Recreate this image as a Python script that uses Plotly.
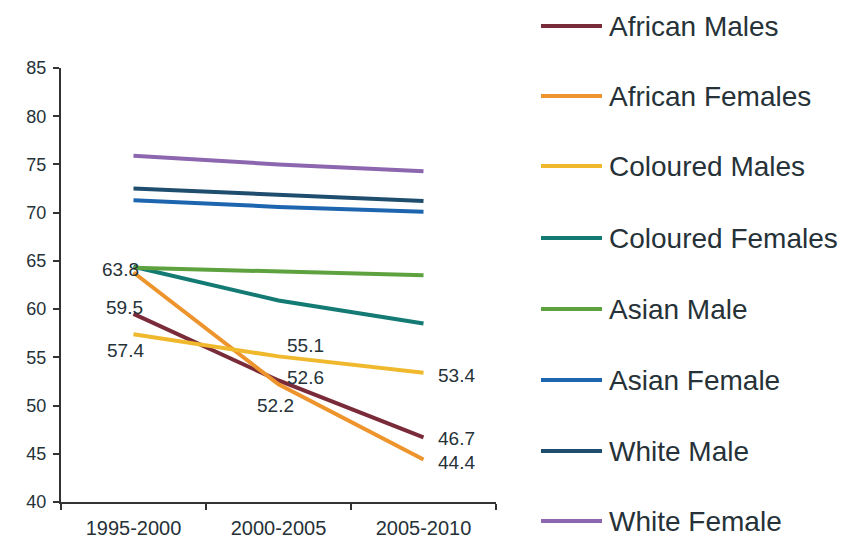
import plotly.graph_objects as go

periods = ["1995-2000", "2000-2005", "2005-2010"]
series_names = ["African Males", "African Females", "Coloured Males", "Coloured Females",
                "Asian Male", "Asian Female", "White Male", "White Female"]
african_males = [59.5, 52.6, 46.7]
african_females = [63.8, 52.2, 44.4]
coloured_males = [57.4, 55.1, 53.4]
coloured_females = [64.4, 60.9, 58.5]
asian_male = [64.3, 63.9, 63.5]
asian_female = [71.3, 70.6, 70.1]
white_male = [72.5, 71.8, 71.2]
white_female = [75.9, 75.0, 74.3]
y_ticks = [40, 45, 50, 55, 60, 65, 70, 75, 80, 85]

series_values = [african_males, african_females, coloured_males, coloured_females,
                 asian_male, asian_female, white_male, white_female]
colors = ["#7A2B3A", "#EE942C", "#F0B82C", "#137B74", "#5DA23E", "#1E65B0", "#1F4D6E", "#8C66AF"]

W, H = 861, 541
L, R, T, B = 61, 365, 68, 39
PW, PH = W - L - R, H - T - B

fig = go.Figure()
for name, vals, c in zip(series_names, series_values, colors):
    fig.add_trace(go.Scatter(x=periods, y=vals, mode="lines", name=name,
                             line=dict(color=c, width=4), showlegend=False))

txt = "#263238"
FONT = "Liberation Sans, Arial, sans-serif"

# data labels: (series index, point index, xshift, yshift)
label_spec = [
    (1, 0, -13, 3),
    (0, 0, -9, 6),
    (2, 0, -8, -16),
    (2, 1, 27, 11),
    (0, 1, 27, 3),
    (1, 1, -3, -21),
    (2, 2, 33, -3),
    (0, 2, 33, -1),
    (1, 2, 33, -3),
]
for si, pi, xs, ys in label_spec:
    v = series_values[si][pi]
    fig.add_annotation(x=periods[pi], y=v, text=f"{v:.1f}", showarrow=False,
                       xshift=xs, yshift=ys, font=dict(size=19, color=txt, family=FONT))

# custom legend
leg_y = [26, 96, 166, 238, 309, 380, 451, 521]
for name, c, py in zip(series_names, colors, leg_y):
    yp = (H - B - py) / PH
    x0 = (541 - L) / PW
    x1 = (602 - L) / PW
    fig.add_shape(type="line", xref="paper", yref="paper", x0=x0, x1=x1, y0=yp, y1=yp,
                  line=dict(color=c, width=4))
    fig.add_annotation(xref="paper", yref="paper", x=(607 - L) / PW, y=yp, text=name,
                       showarrow=False, xanchor="left", yanchor="middle",
                       font=dict(size=28, color=txt, family=FONT))

fig.update_layout(
    width=W, height=H,
    margin=dict(l=L, r=R, t=T, b=B, autoexpand=False),
    plot_bgcolor="white", paper_bgcolor="white",
    showlegend=False,
    font=dict(family=FONT, color=txt),
)
fig.update_xaxes(type="category", range=[-0.5, 2.5], showgrid=False, showline=True,
                 linecolor="#333333", linewidth=2, ticks="outside", tickson="boundaries",
                 ticklen=6, tickcolor="#333333", tickwidth=2, automargin=False,
                 ticklabelstandoff=7,
                 tickfont=dict(size=20, color=txt, family=FONT))
fig.update_yaxes(range=[40, 85], tickvals=y_ticks, showgrid=False, showline=True,
                 linecolor="#333333", linewidth=2, ticks="outside", ticklen=6,
                 tickcolor="#333333", tickwidth=2, zeroline=False, automargin=False,
                 ticklabelstandoff=3,
                 tickfont=dict(size=18, color=txt, family=FONT))

fig.write_html("out.html", config={"displayModeBar": False},
               post_script="document.body.style.margin='0';document.body.style.overflow='hidden';")
